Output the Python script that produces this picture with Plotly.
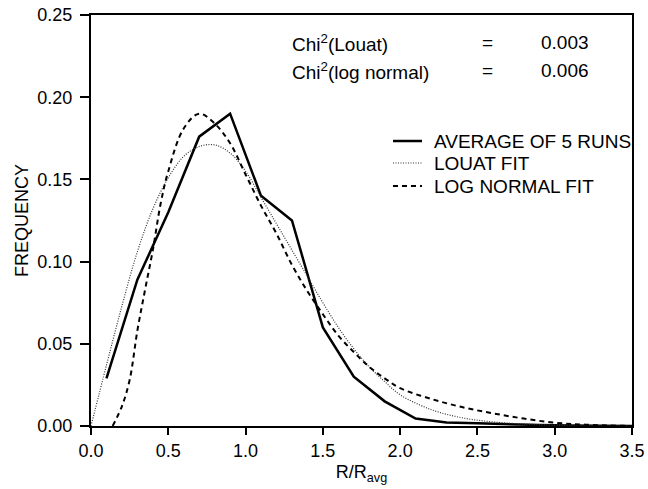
import plotly.graph_objects as go

# ---- data ----
avg_x = [0.1, 0.3, 0.5, 0.7, 0.9, 1.1, 1.3, 1.5, 1.7, 1.9, 2.1, 2.3, 2.5, 2.7, 2.9, 3.1, 3.3, 3.5]
avg_y = [0.029, 0.089, 0.130, 0.176, 0.190, 0.140, 0.125, 0.060, 0.030, 0.015, 0.0045, 0.0022,
         0.0016, 0.0010, 0.0006, 0.0003, 0.0001, 0.0]

louat_x = [0.0, 0.1, 0.2, 0.3, 0.4, 0.5, 0.6, 0.7, 0.8, 0.9, 1.0, 1.1, 1.2, 1.3, 1.4, 1.5, 1.6,
           1.7, 1.8, 1.9, 2.0, 2.2, 2.4, 2.6, 2.8, 3.0, 3.2, 3.5]
louat_y = [0.0, 0.037, 0.073, 0.106, 0.132, 0.151, 0.164, 0.170, 0.171, 0.166, 0.155, 0.139,
           0.123, 0.107, 0.091, 0.075, 0.060, 0.047, 0.036, 0.027, 0.019, 0.010, 0.005,
           0.0025, 0.0012, 0.0005, 0.0002, 0.0]

lognorm_x = [0.14, 0.2, 0.25, 0.3, 0.35, 0.4, 0.45, 0.5, 0.6, 0.7, 0.8, 0.9, 1.0, 1.1, 1.2, 1.3,
             1.4, 1.5, 1.6, 1.7, 1.8, 1.9, 2.0, 2.2, 2.4, 2.6, 2.8, 3.0, 3.2, 3.5]
lognorm_y = [0.0, 0.012, 0.028, 0.058, 0.083, 0.107, 0.135, 0.155, 0.181, 0.190, 0.184, 0.172,
             0.153, 0.134, 0.117, 0.098, 0.082, 0.068, 0.055, 0.045, 0.036, 0.029, 0.023,
             0.0165, 0.0115, 0.0077, 0.0045, 0.002, 0.0008, 0.0]

series_names = ["AVERAGE OF 5 RUNS", "LOUAT FIT", "LOG NORMAL FIT"]
x_ticks = [0.0, 0.5, 1.0, 1.5, 2.0, 2.5, 3.0, 3.5]
x_tick_labels = ["0.0", "0.5", "1.0", "1.5", "2.0", "2.5", "3.0", "3.5"]
y_ticks = [0.0, 0.05, 0.10, 0.15, 0.20, 0.25]
y_tick_labels = ["0.00", "0.05", "0.10", "0.15", "0.20", "0.25"]
chi_labels = ["Chi<sup>2</sup>(Louat)", "Chi<sup>2</sup>(log normal)"]
chi_values = ["0.003", "0.006"]

FONT = "Liberation Sans, Arial, Helvetica, sans-serif"

styles = [
    dict(color="black", width=2.5),
    dict(color="#333333", width=1.2, dash="1px,1.5px"),
    dict(color="black", width=2, dash="5px,4px"),
]

fig = go.Figure()
fig.add_trace(go.Scatter(x=avg_x, y=avg_y, mode="lines", name=series_names[0],
                         line=styles[0], showlegend=False))
fig.add_trace(go.Scatter(x=louat_x, y=louat_y, mode="lines", name=series_names[1],
                         line=dict(**styles[1], shape="spline"), showlegend=False))
fig.add_trace(go.Scatter(x=lognorm_x, y=lognorm_y, mode="lines", name=series_names[2],
                         line=dict(**styles[2], shape="spline"), showlegend=False))

# chi-square annotations
chi_y = [0.233, 0.216]
for lab, val, yy in zip(chi_labels, chi_values, chi_y):
    fig.add_annotation(x=1.289, y=yy, xref="x", yref="y", text=lab, showarrow=False,
                       xanchor="left", yanchor="middle", font=dict(size=19, family=FONT, color="black"))
    fig.add_annotation(x=2.565, y=yy, xref="x", yref="y", text="=", showarrow=False,
                       xanchor="center", yanchor="middle", font=dict(size=19, family=FONT, color="black"))
    fig.add_annotation(x=3.232, y=yy, xref="x", yref="y", text=val, showarrow=False,
                       xanchor="right", yanchor="middle", font=dict(size=19, family=FONT, color="black"))

# hand-built legend (keys + labels) in paper coordinates
leg_y = [0.6934, 0.6399, 0.5839]
for name, st, yy in zip(series_names, styles, leg_y):
    fig.add_shape(type="line", xref="paper", yref="paper", x0=0.5582, x1=0.6118, y0=yy, y1=yy,
                  line=st)
    fig.add_annotation(x=0.6303, y=yy, xref="paper", yref="paper", text=name, showarrow=False,
                       xanchor="left", yanchor="middle", font=dict(size=19, family=FONT, color="black"))

axis_common = dict(showline=True, linecolor="black", linewidth=2, mirror=True,
                   ticks="outside", tickwidth=1.5, tickcolor="black",
                   showgrid=False, zeroline=False, automargin=False,
                   tickfont=dict(size=18, family=FONT, color="black"))

fig.update_xaxes(range=[0, 3.5], tickvals=x_ticks, ticktext=x_tick_labels, ticklen=7,
                 ticklabelstandoff=0,
                 title=dict(text="R/R<sub>avg</sub>", font=dict(size=18, family=FONT, color="black"),
                            standoff=6),
                 **axis_common)
fig.update_yaxes(range=[0, 0.25], tickvals=y_ticks, ticktext=y_tick_labels, ticklen=9,
                 ticklabelstandoff=4,
                 title=dict(text="FREQUENCY", font=dict(size=18, family=FONT, color="black"),
                            standoff=4),
                 **axis_common)

fig.update_layout(
    width=648, height=489,
    margin=dict(l=91, r=16, t=15, b=63),
    paper_bgcolor="white", plot_bgcolor="white",
    font=dict(family=FONT, size=18, color="black"),
    showlegend=False,
)

fig.write_html("out.html", config={"displayModeBar": False},
               post_script="document.body.style.margin='0';document.body.style.overflow='hidden';")
